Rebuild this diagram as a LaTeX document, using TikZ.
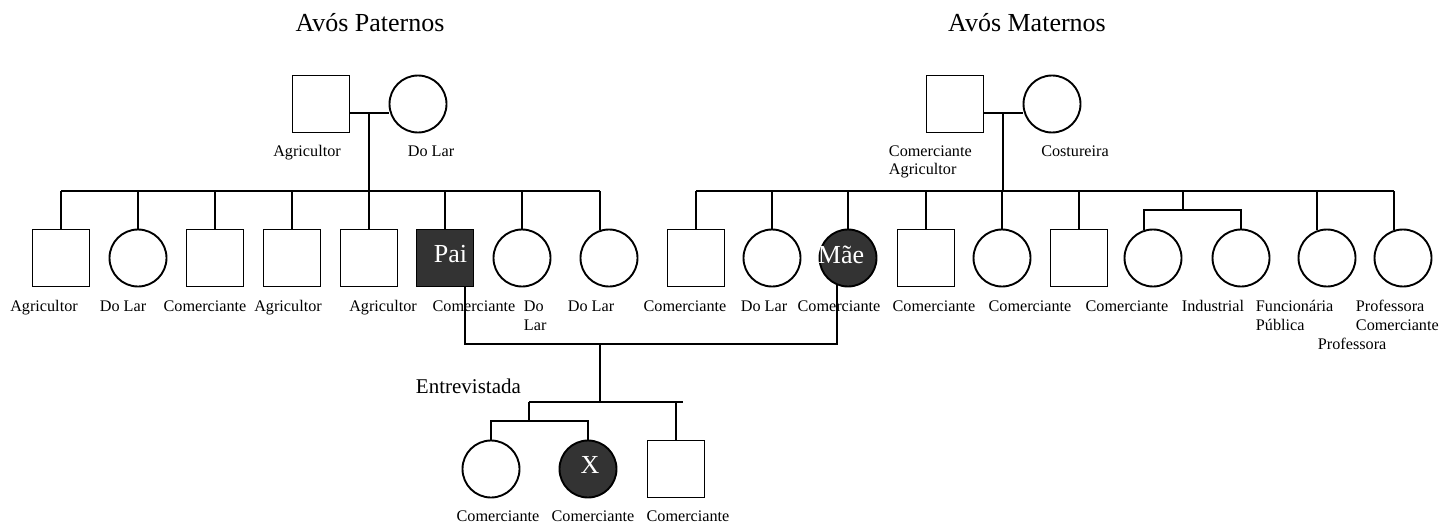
\documentclass[tikz,border=0pt]{standalone}
\usepackage{fontspec}
\setmainfont{Liberation Serif}
\definecolor{dark}{HTML}{333333}
\begin{document}
\begin{tikzpicture}[x=1pt,y=-1pt,line width=1.9pt,
  sq/.style={draw,rectangle,minimum size=57pt,inner sep=0pt},
  ci/.style={draw,circle,minimum size=57pt,inner sep=0pt},
  aff/.style={fill=dark},
  lab/.style={font=\fontsize{16.2}{18.5}\selectfont,inner sep=0pt,anchor=base},
  labl/.style={lab,anchor=base west,align=left},
  ttl/.style={font=\fontsize{26}{30}\selectfont,inner sep=0pt,anchor=base},
  intext/.style={font=\fontsize{26}{30}\selectfont,inner sep=0pt,text=white}]
\useasboundingbox (0,0) rectangle (1440,524);

% titles
\node[ttl] (tp) at (370,32) {Avós Paternos};
\node[ttl] (tm) at (1027,32) {Avós Maternos};

% paternal grandparents
\node[sq] (pgf) at (321,104) {};
\node[ci] (pgm) at (418,104) {};
\coordinate (pgc) at (369,113);
\coordinate (pbar) at (369,191);
\draw (pgf.east |- pgc) -- (pgm.west |- pgc);
\draw (pgc) -- (pbar);
\node[lab] (lpgf) at (307,157) {Agricultor};
\node[lab] (lpgm) at (431,157) {Do Lar};

% paternal children
\node[sq] (p1) at (61,258) {};
\node[ci] (p2) at (138,258) {};
\node[sq] (p3) at (215,258) {};
\node[sq] (p4) at (292,258) {};
\node[sq] (p5) at (369,258) {};
\node[sq,aff] (p6) at (445,258) {};
\node[ci] (p7) at (522,258) {};
\node[ci] (p8) at (609,258) {};
\draw (p1.north |- pbar) -- (p8.108 |- pbar);
\foreach \n in {p1,p2,p3,p4,p5,p6,p7} \draw (\n.north) -- (\n.north |- pbar);
\draw (p8.108) -- (p8.108 |- pbar);
\node[intext,anchor=base east] (tpai) at (468,262) {Pai};

\node[lab] (lp1) at (44,311) {Agricultor};
\node[lab] (lp2) at (123,311) {Do Lar};
\node[lab] (lp3) at (205,311) {Comerciante};
\node[lab] (lp4) at (288,311) {Agricultor};
\node[lab] (lp5) at (383,311) {Agricultor};
\node[lab] (lp6) at (474,311) {Comerciante};
\node[labl] (lp7) at (523,330) {Do\\Lar};
\node[lab] (lp8) at (591,311) {Do Lar};

% maternal grandparents
\node[sq] (mgf) at (955,104) {};
\node[ci] (mgm) at (1052,104) {};
\coordinate (mgc) at (1003,113);
\coordinate (mbar) at (1003,191);
\draw (mgf.east |- mgc) -- (mgm.west |- mgc);
\draw (mgc) -- (mbar);
\node[labl] (lmgf) at (888,175) {Comerciante\\Agricultor};
\node[lab] (lmgm) at (1075,157) {Costureira};

% maternal children
\node[sq] (m1) at (696,258) {};
\node[ci] (m2) at (772,258) {};
\node[ci,aff] (m3) at (848,258) {};
\node[sq] (m4) at (926,258) {};
\node[ci] (m5) at (1002,258) {};
\node[sq] (m6) at (1079,258) {};
\node[ci] (m7) at (1153,258) {};
\node[ci] (m8) at (1241,258) {};
\node[ci] (m9) at (1327,258) {};
\node[ci] (m10) at (1403,258) {};
\draw (m1.north |- mbar) -- (m10.108 |- mbar);
\foreach \n in {m1,m2,m3,m4,m5,m6} \draw (\n.north) -- (\n.north |- mbar);
\coordinate (mtw) at (1183,191);
\coordinate (mtwb) at (1183,210);
\draw (mtw) -- (mtwb);
\draw (m7.108) |- (m8.north |- mtwb) -- (m8.north);
\draw (m9.110) -- (m9.110 |- mbar);
\draw (m10.108) -- (m10.108 |- mbar);
\node[intext,anchor=base west] (tmae) at (817,263) {Mãe};

\node[lab] (lm1) at (685,311) {Comerciante};
\node[lab] (lm2) at (764,311) {Do Lar};
\node[lab] (lm3) at (839,311) {Comerciante};
\node[lab] (lm4) at (934,311) {Comerciante};
\node[lab] (lm5) at (1030,311) {Comerciante};
\node[lab] (lm6) at (1127,311) {Comerciante};
\node[lab] (lm7) at (1213,311) {Industrial};
\node[labl] (lm8) at (1255,330) {Funcionária\\Pública};
\node[labl] (lm9) at (1355,330) {Professora\\Comerciante};
\node[labl] (lm9b) at (1317,349) {Professora};

% parents and grandchildren
\coordinate (parbar) at (600,344);
\coordinate (kbar) at (600,402);
\draw ([xshift=20pt]p6.south) |- (m3.248 |- parbar) -- (m3.248);
\draw (parbar) -- (kbar);
\coordinate (twinc) at (529,402);
\coordinate (kbarend) at (683,402);
\coordinate (twinbar) at (529,421);
\draw (twinc) -- (kbarend);
\draw (twinc) -- (twinbar);
\node[ci] (c1) at (491,469) {};
\node[ci,aff] (c2) at (588,469) {};
\node[sq] (c3) at (676,469) {};
\draw (c1.north) |- (c2.north |- twinbar) -- (c2.north);
\draw (c3.north) -- (c3.north |- kbarend);
\node[intext,anchor=base] (tx) at (590,473) {X};
\node[font=\fontsize{21}{25}\selectfont,inner sep=0pt,anchor=base west] (tent) at (415,393) {Entrevistada};

\node[lab] (lc1) at (498,521) {Comerciante};
\node[lab] (lc2) at (593,521) {Comerciante};
\node[lab] (lc3) at (688,521) {Comerciante};
\end{tikzpicture}
\end{document}
